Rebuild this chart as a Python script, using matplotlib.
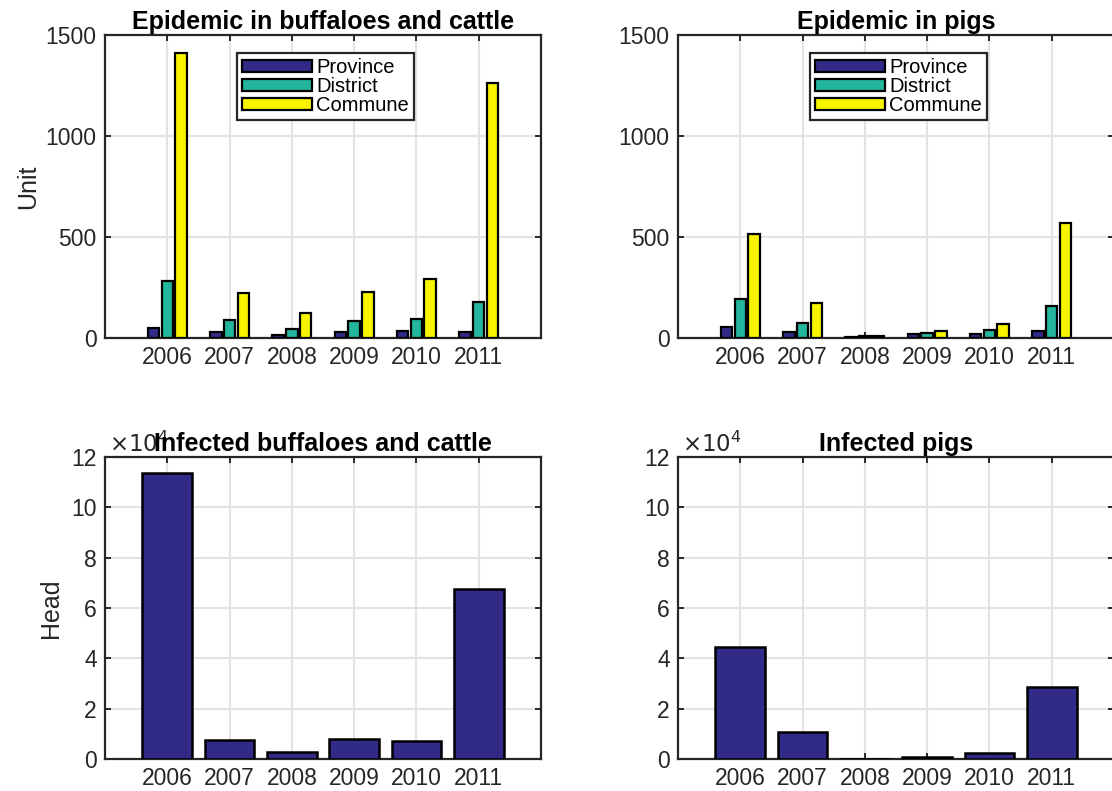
import matplotlib
matplotlib.use('Agg')
import matplotlib.pyplot as plt
import numpy as np
from matplotlib.ticker import FuncFormatter

plt.rcParams['font.family'] = ['Liberation Sans', 'DejaVu Sans']

years = ['2006', '2007', '2008', '2009', '2010', '2011']
levels = ['Province', 'District', 'Commune']
level_colors = ['#312a86', '#22b79d', '#f8f400']

# epidemic units, buffaloes and cattle
bc_province = [48, 28, 13, 28, 33, 28]
bc_district = [281, 90, 43, 86, 95, 178]
bc_commune = [1410, 224, 122, 230, 294, 1263]

# epidemic units, pigs
pig_province = [56, 28, 5, 18, 18, 35]
pig_district = [192, 74, 9, 26, 38, 156]
pig_commune = [516, 173, 10, 36, 67, 571]

# infected heads
bc_heads = [113800, 7500, 2600, 7900, 7300, 67500]
pig_heads = [44500, 10900, 150, 600, 2400, 28800]

head_color = '#312a86'
spine_col = '#262626'
grid_col = '#e3e3e3'

fig = plt.figure(figsize=(11.12, 7.91), dpi=100)
W, H = 1112, 791
ax_tl = fig.add_axes([105 / W, 1 - 338 / H, 436 / W, 303 / H])
ax_tr = fig.add_axes([678 / W, 1 - 338 / H, 436 / W, 303 / H])
ax_bl = fig.add_axes([105 / W, 1 - 759 / H, 436 / W, 302 / H])
ax_br = fig.add_axes([678 / W, 1 - 759 / H, 436 / W, 302 / H])

x = np.arange(1, len(years) + 1)


def style(ax):
    ax.set_xlim(0, 7)
    ax.set_xticks(x)
    ax.set_xticklabels(years)
    ax.grid(True, color=grid_col, linewidth=1.5)
    ax.set_axisbelow(True)
    for s in ax.spines.values():
        s.set_color(spine_col)
        s.set_linewidth(1.6)
    ax.tick_params(direction='in', length=4, width=1.4, colors=spine_col,
                   labelcolor='#262626', labelsize=16.5, top=True, right=True, pad=6)


def grouped(ax, series, title):
    off = 0.222
    w = 0.185
    for i, (vals, lab) in enumerate(zip(series, levels)):
        ax.bar(x + (i - 1) * off, vals, w, color=level_colors[i], edgecolor='black',
               linewidth=1.6, label=lab, zorder=3)
    style(ax)
    ax.set_ylim(0, 1500)
    ax.set_yticks([0, 500, 1000, 1500])
    ax.set_title(title, fontsize=18, fontweight='bold', pad=4)
    leg = ax.legend(loc='center', bbox_to_anchor=(0.505, 0.83), fontsize=14.5,
                    handlelength=3.5, handleheight=0.6, labelspacing=0.0,
                    handletextpad=0.2, borderpad=0.25, borderaxespad=0,
                    fancybox=False, framealpha=1)
    leg.get_frame().set_edgecolor(spine_col)
    leg.get_frame().set_linewidth(1.6)


def heads(ax, vals, title):
    ax.bar(x, vals, 0.8, color=head_color, edgecolor='black', linewidth=1.8, zorder=3)
    style(ax)
    ax.set_ylim(0, 120000)
    ax.set_yticks(np.arange(0, 120001, 20000))
    ax.yaxis.set_major_formatter(FuncFormatter(lambda v, p: '%d' % round(v / 1e4)))
    ax.set_title(title, fontsize=18, fontweight='bold', pad=4)
    ax.text(0.01, 1.0, r'$\times10^4$', transform=ax.transAxes, fontsize=16.5,
            color='#262626', ha='left', va='bottom')


grouped(ax_tl, [bc_province, bc_district, bc_commune], 'Epidemic in buffaloes and cattle')
grouped(ax_tr, [pig_province, pig_district, pig_commune], 'Epidemic in pigs')
heads(ax_bl, bc_heads, 'Infected buffaloes and cattle')
heads(ax_br, pig_heads, 'Infected pigs')

ax_tl.set_ylabel('Unit', fontsize=18, color='#262626', labelpad=4)
ax_bl.set_ylabel('Head', fontsize=18, color='#262626', labelpad=6)

fig.savefig('out.png', dpi=100)
